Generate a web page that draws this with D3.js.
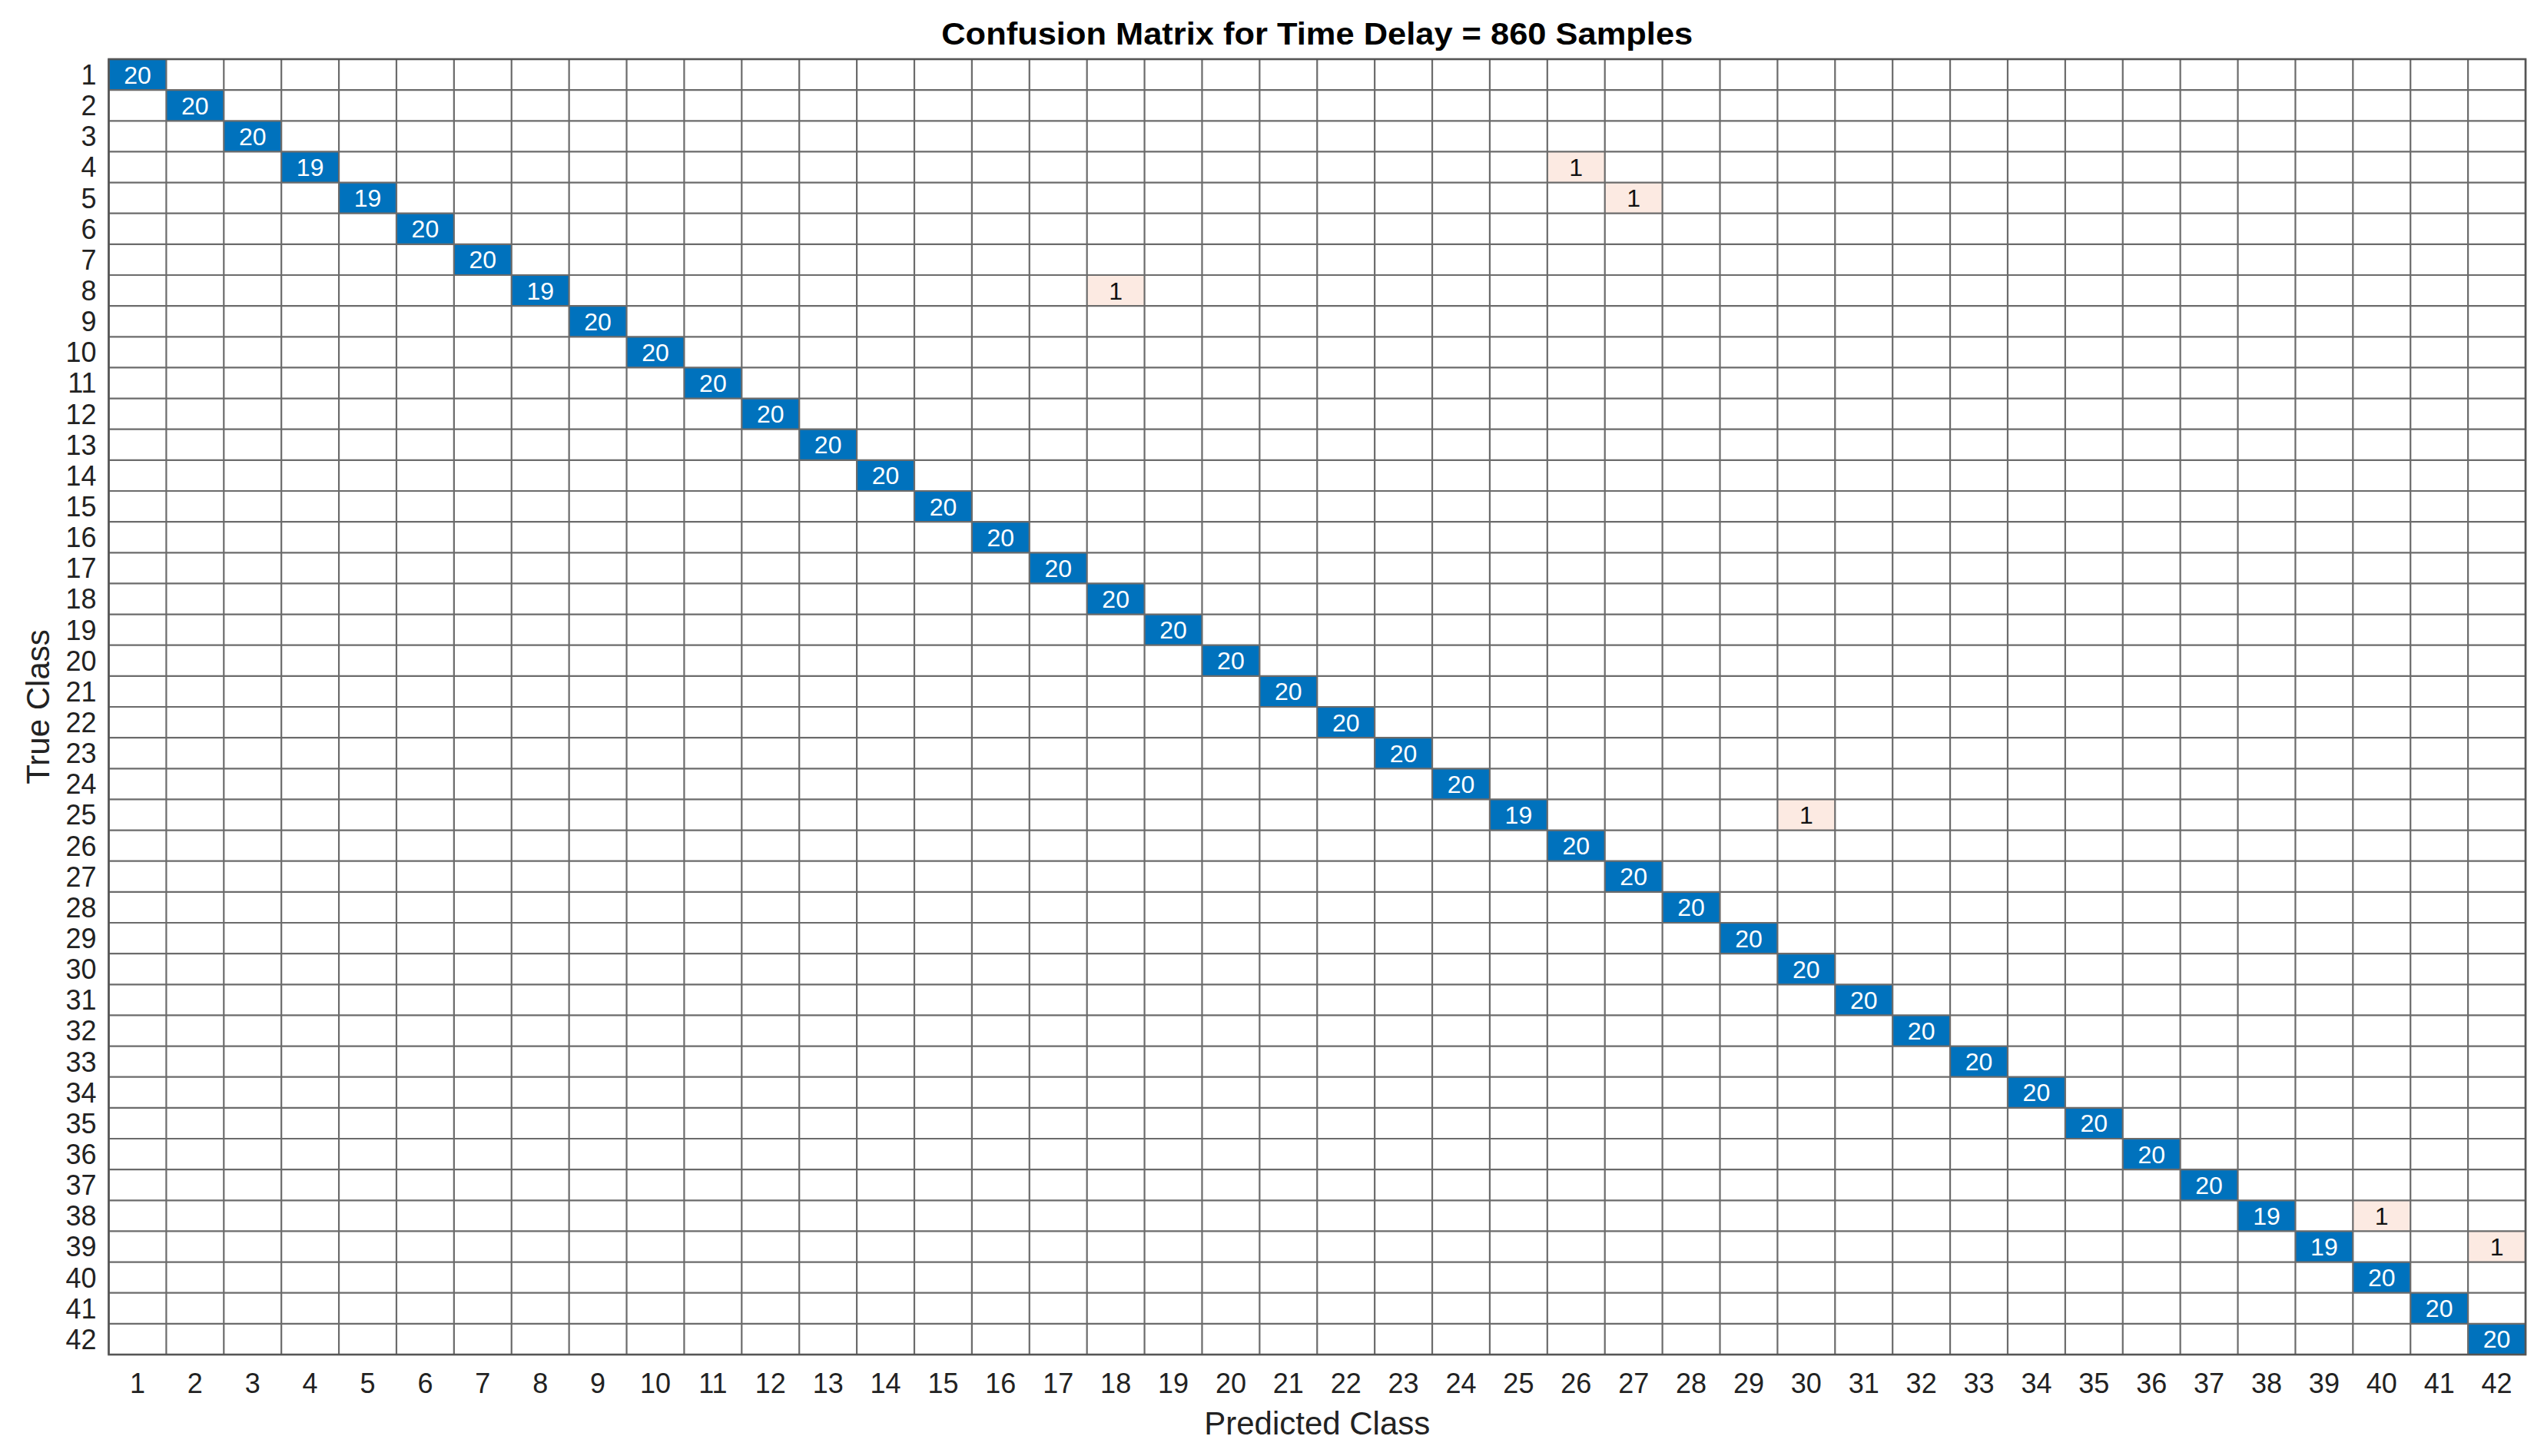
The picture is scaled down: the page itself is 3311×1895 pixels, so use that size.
<!DOCTYPE html>
<html>
<head>
<meta charset="utf-8">
<script src="https://cdn.jsdelivr.net/npm/d3@7"></script>
<style>
  html, body { margin: 0; padding: 0; background: #ffffff; }
  svg { display: block; }
  text { font-family: "Liberation Sans", Arial, Helvetica, sans-serif; }
</style>
</head>
<body>
<script>
// ---- data ----
const classes = d3.range(1, 43).map(String);          // tick labels 1..42
const diagonalCounts = [20,20,20,19,19,20,20,19,20,20,20,20,20,20,20,20,20,20,20,20,20,
                        20,20,20,19,20,20,20,20,20,20,20,20,20,20,20,20,19,19,20,20,20];
const offTrue = ["4","5","8","25","38","39"];
const offPred = ["26","27","18","30","40","42"];
const offCounts = [1,1,1,1,1,1];
const titleText = "Confusion Matrix for Time Delay = 860 Samples";
const xLabel = "Predicted Class";
const yLabel = "True Class";

// ---- layout ----
const W = 3311, H = 1895;
const mLeft = 141.5, mRight = 3287, mTop = 77, mBottom = 1763;

const svg = d3.select("body").append("svg").attr("width", W).attr("height", H);

const x = d3.scaleBand().domain(classes).range([mLeft, mRight]).padding(0);
const y = d3.scaleBand().domain(classes).range([mTop, mBottom]).padding(0);

const cells = classes.map((c, i) => ({ t: c, p: c, v: diagonalCounts[i], diag: true }))
  .concat(offTrue.map((t, i) => ({ t, p: offPred[i], v: offCounts[i], diag: false })));

// cell fills
svg.append("g").selectAll("rect").data(cells).join("rect")
  .attr("x", d => x(d.p)).attr("y", d => y(d.t))
  .attr("width", x.bandwidth()).attr("height", y.bandwidth())
  .attr("fill", d => d.diag ? "#0072BD" : "#FCEAE2");

// grid lines
const g = svg.append("g").attr("stroke", "#6b6b6b").attr("stroke-width", 2.2);
const xb = classes.map(c => x(c)).concat([mRight]);
const yb = classes.map(c => y(c)).concat([mBottom]);
g.selectAll("line.v").data(xb).join("line").attr("class", "v")
  .attr("x1", d => d).attr("x2", d => d).attr("y1", mTop).attr("y2", mBottom);
g.selectAll("line.h").data(yb).join("line").attr("class", "h")
  .attr("y1", d => d).attr("y2", d => d).attr("x1", mLeft).attr("x2", mRight);
svg.append("rect").attr("x", mLeft).attr("y", mTop).attr("width", mRight - mLeft).attr("height", mBottom - mTop)
  .attr("fill", "none").attr("stroke", "#555").attr("stroke-width", 2.6);

// cell values
svg.append("g").selectAll("text").data(cells).join("text")
  .attr("x", d => x(d.p) + x.bandwidth() / 2)
  .attr("y", d => y(d.t) + y.bandwidth() / 2)
  .attr("dy", "0.36em")
  .attr("text-anchor", "middle")
  .attr("font-size", 32)
  .attr("fill", d => d.diag ? "#ffffff" : "#111111")
  .text(d => d.v);

// axes (tick labels only)
const xAxis = d3.axisBottom(x).tickSize(0).tickPadding(0);
const gx = svg.append("g").attr("transform", `translate(0,${mBottom})`).call(xAxis);
gx.select(".domain").remove();
gx.selectAll("text").attr("font-size", 36).attr("fill", "#222").attr("dy", null).attr("y", 50)
  .style("font-family", '"Liberation Sans", Arial, sans-serif');

const yAxis = d3.axisLeft(y).tickSize(0).tickPadding(0);
const gy = svg.append("g").attr("transform", `translate(${mLeft},0)`).call(yAxis);
gy.select(".domain").remove();
gy.selectAll("text").attr("font-size", 36).attr("fill", "#222").attr("x", -16).attr("dy", "0.36em")
  .style("font-family", '"Liberation Sans", Arial, sans-serif');

// title and labels
svg.append("text")
  .attr("x", (mLeft + mRight) / 2).attr("y", 58)
  .attr("text-anchor", "middle").attr("font-size", 40).attr("font-weight", "bold")
  .attr("fill", "#000")
  .attr("textLength", 978).attr("lengthAdjust", "spacingAndGlyphs")
  .text(titleText);

svg.append("text")
  .attr("x", (mLeft + mRight) / 2).attr("y", 1867)
  .attr("text-anchor", "middle").attr("font-size", 42).attr("fill", "#222")
  .text(xLabel);

svg.append("text")
  .attr("transform", `translate(64,${(mTop + mBottom) / 2}) rotate(-90)`)
  .attr("text-anchor", "middle").attr("font-size", 42).attr("fill", "#222")
  .text(yLabel);
</script>
</body>
</html>
